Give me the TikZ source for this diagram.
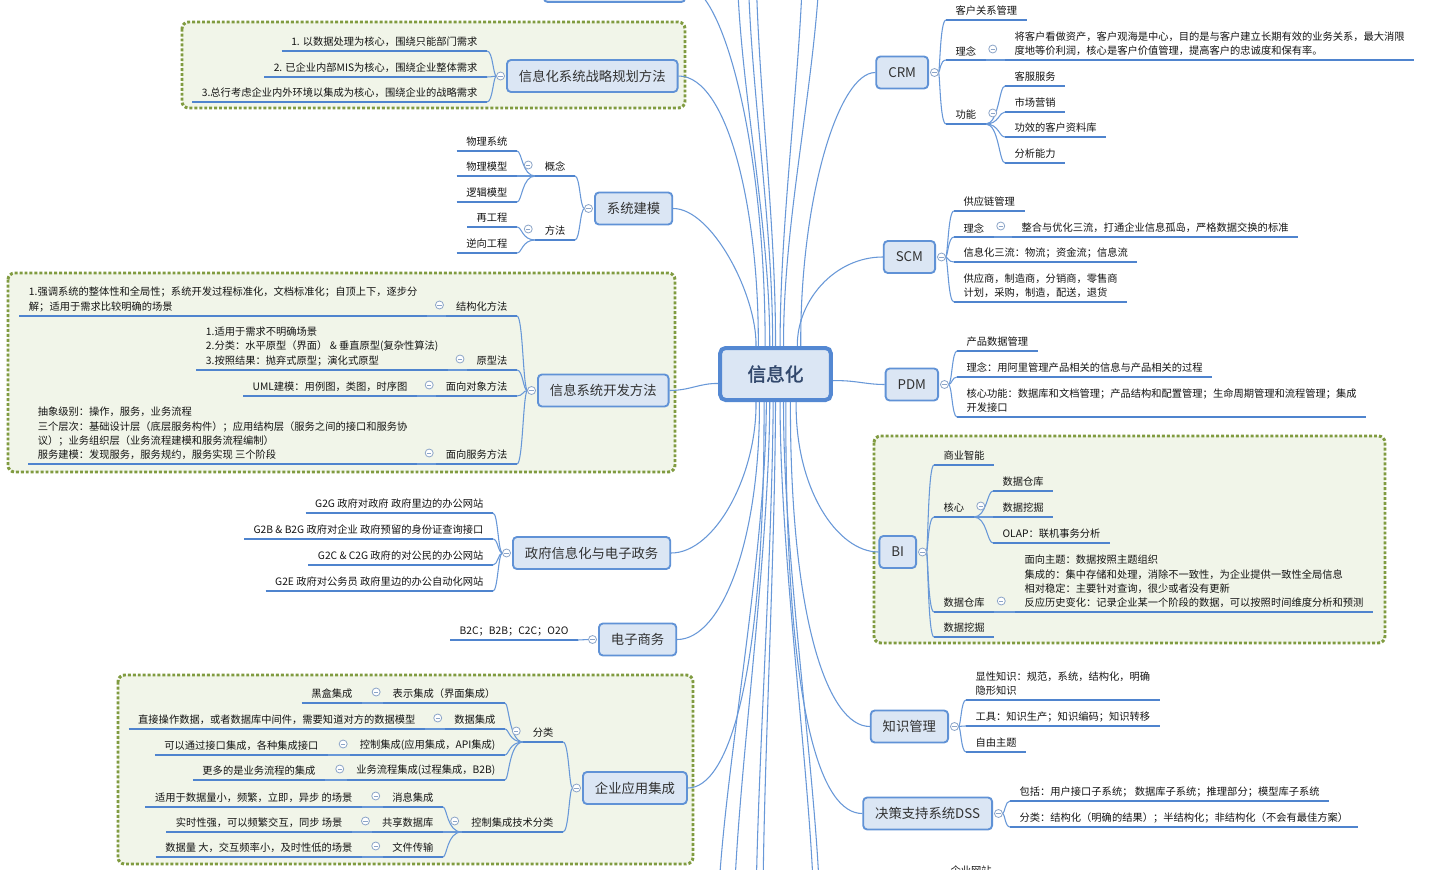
\documentclass[tikz,border=0pt]{standalone}
\usepackage{fontspec}
\setmainfont{Noto Sans CJK SC}
\newfontfamily\rootfont{Noto Sans CJK SC}[FakeBold=1.6]
\usetikzlibrary{calc}
\pgfdeclarelayer{bg}
\pgfsetlayers{bg,main}
\definecolor{ulc}{RGB}{79,132,206}
\definecolor{cnc}{RGB}{104,152,216}
\definecolor{boxfill}{RGB}{219,230,244}
\definecolor{boxdraw}{RGB}{96,146,214}
\definecolor{rootdraw}{RGB}{84,136,210}
\definecolor{roottext}{RGB}{50,72,108}
\definecolor{txt}{RGB}{20,20,20}
\definecolor{boxtext}{RGB}{50,50,50}
\definecolor{grnd}{RGB}{128,155,64}
\definecolor{grnf}{RGB}{241,245,233}
\definecolor{circd}{RGB}{140,165,200}
\tikzset{
  x=0.75pt, y=-0.75pt,
  tp/.style={font=\fontsize{7.7pt}{10.7pt}\selectfont, text=txt, inner xsep=7pt, inner ysep=3pt, align=left},
  tpl/.style={tp, anchor=south east},
  tpr/.style={tp, anchor=south west},
  uline/.style={draw=ulc, line width=2.2pt},
  conn/.style={draw=cnc, line width=0.8pt},
  rconn/.style={draw=cnc, line width=0.8pt},
  mbox/.style={draw=boxdraw, fill=boxfill, line width=1.4pt, rounded corners=3pt, font=\fontsize{10pt}{12pt}\selectfont, text=boxtext, inner xsep=9pt, minimum height=24pt},
  mboxl/.style={mbox, anchor=west},
  mboxr/.style={mbox, anchor=east},
  grp/.style={draw=grnd, fill=grnf, line width=2.2pt, dash pattern=on 2.2pt off 1.5pt, rounded corners=5pt},
  pics/coll/.style={code={\draw[draw=circd, fill=white, line width=0.6pt] (0pt,0pt) circle (3pt); \draw[draw=circd, line width=0.6pt] (-1.6pt,0pt) -- (1.6pt,0pt);}}
}
\newcommand\mbra[3]{\draw[conn] (#1) .. controls (#1 -| #2) and (#3 -| #2) .. (#3);}
\begin{document}
\begin{tikzpicture}
\path[use as bounding box] (0,0) rectangle (1454,870);

% background and groups
\begin{pgfonlayer}{bg}
\fill[white] (0,0) rectangle (1454,870);
\draw[grp] (182,22) rectangle (685,108);
\draw[grp] (8,273) rectangle (675,472);
\draw[grp] (118,675) rectangle (693,864);
\draw[grp] (874,436) rectangle (1385,643);
\end{pgfonlayer}

% root
\node[draw=rootdraw, fill=boxfill, line width=3pt, rounded corners=4pt, minimum width=83pt, minimum height=39pt, font=\rootfont\fontsize{14pt}{16pt}\selectfont, text=roottext] (root) at (775.5,374) {信息化};

% main boxes
\node[mboxl] (b1) at (506,76) {信息化系统战略规划方法};
\node[mboxl] (b2) at (594,208.5) {系统建模};
\node[mboxl] (b3) at (537,390.5) {信息系统开发方法};
\node[mboxl] (b4) at (512,553) {政府信息化与电子政务};
\node[mboxl] (b5) at (598,639.5) {电子商务};
\node[mboxl] (b6) at (582,788) {企业应用集成};
\node[mboxr] (b7) at (929,72.5) {CRM};
\node[mboxr] (b8) at (936,257) {SCM};
\node[mboxr] (b9) at (939,384.5) {PDM};
\node[mboxr] (b10) at (917,552) {BI};
\node[mboxr] (b11) at (949,726.5) {知识管理};
\node[mboxr] (b12) at (993,813.5) {决策支持系统DSS};
\node[mbox, minimum width=106pt, anchor=south] (b0) at (614.5,3) {};

% left children
\node[tpl] (n1a) at (487,51) {1. 以数据处理为核心，围绕只能部门需求};
\node[tpl] (n1b) at (487,77) {2. 已企业内部MIS为核心，围绕企业整体需求};
\node[tpl] (n1c) at (487,102) {3.总行考虑企业内外环境以集成为核心，围绕企业的战略需求};

\node[tpl] (n2a) at (575,176) {概念};
\node[tpl] (n2b) at (575,240) {方法};
\node[tpl] (n2a1) at (517,151) {物理系统};
\node[tpl] (n2a2) at (517,176) {物理模型};
\node[tpl] (n2a3) at (517,202) {逻辑模型};
\node[tpl] (n2b1) at (517,227) {再工程};
\node[tpl] (n2b2) at (517,253) {逆向工程};

\node[tpl] (n3a) at (517,316) {结构化方法};
\node[tpl] (n3b) at (517,370) {原型法};
\node[tpl] (n3c) at (517,396) {面向对象方法};
\node[tpl] (n3d) at (517,464) {面向服务方法};
\node[tpl] (n3a1) at (427,316) {1.强调系统的整体性和全局性；系统开发过程标准化，文档标准化；自顶上下，逐步分\\解；适用于需求比较明确的场景};
\node[tpl] (n3b1) at (448,370) {1.适用于需求不明确场景\\2.分类：水平原型（界面） \& 垂直原型(复杂性算法)\\3.按照结果：抛弃式原型；演化式原型};
\node[tpl] (n3c1) at (417,396) {UML建模：用例图，类图，时序图};
\node[tpl] (n3d1) at (417,464) {抽象级别：操作，服务，业务流程\\三个层次：基础设计层（底层服务构件）；应用结构层（服务之间的接口和服务协\\议）；业务组织层（业务流程建模和服务流程编制）\\服务建模：发现服务，服务规约，服务实现 三个阶段};

\node[tpl] (n4a) at (493,513) {G2G 政府对政府 政府里边的办公网站};
\node[tpl] (n4b) at (493,539) {G2B \& B2G 政府对企业 政府预留的身份证查询接口};
\node[tpl] (n4c) at (493,565) {G2C \& C2G 政府的对公民的办公网站};
\node[tpl] (n4d) at (493,591) {G2E 政府对公务员 政府里边的办公自动化网站};

\node[tpl] (n5a) at (578,640) {B2C；B2B；C2C；O2O};

\node[tpl] (n6a) at (563,742) {分类};
\node[tpl] (n6b) at (563,832) {控制集成技术分类};
\node[tpl] (n6a1) at (505,703) {表示集成（界面集成）};
\node[tpl] (n6a2) at (505,729) {数据集成};
\node[tpl] (n6a3) at (505,755) {控制集成(应用集成，API集成)};
\node[tpl] (n6a4) at (505,780) {业务流程集成(过程集成，B2B)};
\node[tpl] (n6a1x) at (362,703) {黑盒集成};
\node[tpl] (n6a2x) at (425,729) {直接操作数据，或者数据库中间件，需要知道对方的数据模型};
\node[tpl] (n6a3x) at (328,755) {可以通过接口集成，各种集成接口};
\node[tpl] (n6a4x) at (325,780) {更多的是业务流程的集成};
\node[tpl] (n6b1) at (443,807) {消息集成};
\node[tpl] (n6b2) at (443,832) {共享数据库};
\node[tpl] (n6b3) at (443,857) {文件传输};
\node[tpl] (n6b1x) at (362,807) {适用于数据量小，频繁，立即，异步 的场景};
\node[tpl] (n6b2x) at (352,832) {实时性强，可以频繁交互，同步 场景};
\node[tpl] (n6b3x) at (362,857) {数据量 大，交互频率小，及时性低的场景};

% right children
\node[tpr] (n7a) at (946,20) {客户关系管理};
\node[tpr] (n7b) at (946,60) {理念};
\node[tpr] (n7c) at (946,124) {功能};
\node[tpr] (n7b1) at (1005,60) {将客户看做资产，客户观海是中心，目的是与客户建立长期有效的业务关系，最大消限\\度地等价利润，核心是客户价值管理，提高客户的忠诚度和保有率。};
\node[tpr] (n7c1) at (1005,86) {客服服务};
\node[tpr] (n7c2) at (1005,112) {市场营销};
\node[tpr] (n7c3) at (1005,137) {功效的客户资料库};
\node[tpr] (n7c4) at (1005,163) {分析能力};

\node[tpr] (n8a) at (954,211) {供应链管理};
\node[tpr] (n8b) at (954,237) {理念};
\node[tpr] (n8c) at (954,262) {信息化三流：物流；资金流；信息流};
\node[tpr] (n8d) at (954,302) {供应商，制造商，分销商，零售商\\计划，采购，制造，配送，退货};
\node[tpr] (n8b1) at (1012,237) {整合与优化三流，打通企业信息孤岛，严格数据交换的标准};

\node[tpr] (n9a) at (957,351) {产品数据管理};
\node[tpr] (n9b) at (957,377) {理念：用阿里管理产品相关的信息与产品相关的过程};
\node[tpr] (n9c) at (957,417) {核心功能：数据库和文档管理；产品结构和配置管理；生命周期管理和流程管理；集成\\开发接口};

\node[tpr] (n10a) at (934,465) {商业智能};
\node[tpr] (n10b) at (934,517) {核心};
\node[tpr] (n10c) at (934,612) {数据仓库};
\node[tpr] (n10d) at (934,637) {数据挖掘};
\node[tpr] (n10b1) at (993,491) {数据仓库};
\node[tpr] (n10b2) at (993,517) {数据挖掘};
\node[tpr] (n10b3) at (993,543) {OLAP：联机事务分析};
\node[tpr] (n10c1) at (1015,612) {面向主题：数据按照主题组织\\集成的：集中存储和处理，消除不一致性，为企业提供一致性全局信息\\相对稳定：主要针对查询，很少或者没有更新\\反应历史变化：记录企业某一个阶段的数据，可以按照时间维度分析和预测};

\node[tpr] (n11a) at (966,700) {显性知识：规范，系统，结构化，明确\\隐形知识};
\node[tpr] (n11b) at (966,726) {工具：知识生产；知识编码；知识转移};
\node[tpr] (n11c) at (966,752) {自由主题};

\node[tpr] (n12a) at (1010,801) {包括：用户接口子系统； 数据库子系统；推理部分；模型库子系统};
\node[tpr] (n12b) at (1010,827) {分类：结构化（明确的结果）；半结构化；非结构化（不会有最佳方案）};

\node[tpr, anchor=north west] (n13) at (941,862) {企业网站};

% helper coordinates
\foreach \n in {1,...,6} \coordinate (s\n) at ($(b\n.west)+(-7.1pt,0pt)$);
\foreach \n in {7,...,12} \coordinate (s\n) at ($(b\n.east)+(7.1pt,0pt)$);
\foreach \n/\f in {a/0.35,b/0.33,c/0.41,d/0.45,e/0.475,f/0.5,g/0.54,h/0.57,i/0.72,j/0.69}
  \coordinate (rt\n) at ($(root.north west)!\f!(root.north east)$);
\foreach \n/\f in {a/0.33,b/0.36,c/0.40,d/0.42,e/0.45,f/0.48,g/0.5,h/0.54,i/0.57,j/0.68,k/0.63,l/0.59}
  \coordinate (rb\n) at ($(root.south west)!\f!(root.south east)$);
\coordinate (rw) at ($(root.south west)!0.33!(root.north west)$);
\coordinate (re) at ($(root.south east)!0.38!(root.north east)$);
\coordinate (ot1) at (737,-40);
\coordinate (ot2) at (748,-40);
\coordinate (ot3) at (756,-40);
\coordinate (ot4) at (803,-40);
\coordinate (ot5) at (820,-40);
\coordinate (ob1) at (718,910);
\coordinate (ob2) at (734,910);
\coordinate (ob3) at (756,910);
\coordinate (ob4) at (763,910);
\coordinate (ob5) at (814,910);
\coordinate (ob6) at (820,910);
\coordinate (v1) at (493,0);
\coordinate (v2) at (580,0);
\coordinate (v2a) at (522,0);
\coordinate (v3) at (523,0);
\coordinate (v4) at (498,0);
\coordinate (v6) at (569,0);
\coordinate (v6a) at (509,0);
\coordinate (v6b) at (447,0);
\coordinate (v7) at (940,0);
\coordinate (v7c) at (999,0);
\coordinate (v8) at (948,0);
\coordinate (v9) at (952,0);
\coordinate (v10) at (928,0);
\coordinate (v10b) at (987,0);
\coordinate (v11) at (961,0);
\coordinate (v12) at (1005,0);

\begin{pgfonlayer}{bg}
% root connectors
\draw[rconn] (rta) .. controls (759,210) and (728,76) .. (b1.east);
\draw[rconn] (rtb) .. controls (757,295) and (712,208.5) .. (b2.east);
\draw[rconn] (rtc) .. controls (765,140) and (722,-13) .. (b0.east);
\draw[rconn] (rtd) .. controls (770,220) and (738,80) .. (ot1);
\draw[rconn] (rte) .. controls (773,220) and (749,80) .. (ot2);
\draw[rconn] (rtf) .. controls (776,220) and (757,80) .. (ot3);
\draw[rconn] (rtg) .. controls (780,220) and (800,80) .. (ot4);
\draw[rconn] (rth) .. controls (783,220) and (816,80) .. (ot5);
\draw[rconn] (rti) .. controls (800,200) and (838,72.5) .. (b7.west);
\draw[rconn] (rtj) .. controls (797,300) and (835,257) .. (b8.west);
\draw[rconn] (rw) .. controls (700,383) and (690,390.5) .. (b3.east);
\draw[rconn] (re) .. controls (855,380) and (865,384.5) .. (b9.west);
\draw[rconn] (rba) .. controls (757,475) and (715,553) .. (b4.east);
\draw[rconn] (rbb) .. controls (760,540) and (722,639.5) .. (b5.east);
\draw[rconn] (rbc) .. controls (765,680) and (728,788) .. (b6.east);
\draw[rconn] (rbd) .. controls (766,560) and (722,780) .. (ob1);
\draw[rconn] (rbe) .. controls (769,560) and (737,780) .. (ob2);
\draw[rconn] (rbf) .. controls (772,560) and (757,780) .. (ob3);
\draw[rconn] (rbg) .. controls (775,560) and (763,780) .. (ob4);
\draw[rconn] (rbh) .. controls (780,560) and (811,780) .. (ob5);
\draw[rconn] (rbi) .. controls (783,560) and (817,780) .. (ob6);
\draw[rconn] (rbj) .. controls (795,490) and (838,552) .. (b10.west);
\draw[rconn] (rbk) .. controls (790,620) and (828,726.5) .. (b11.west);
\draw[rconn] (rbl) .. controls (785,720) and (822,813.5) .. (b12.west);

% brackets
\foreach \c in {n1a,n1b,n1c} {\mbra{s1}{v1}{\c.south east}}
\foreach \c in {n2a,n2b} {\mbra{s2}{v2}{\c.south east}}
\foreach \c in {n2a1,n2a2,n2a3} {\mbra{n2a.south west}{v2a}{\c.south east}}
\foreach \c in {n2b1,n2b2} {\mbra{n2b.south west}{v2a}{\c.south east}}
\foreach \c in {n3a,n3b,n3c,n3d} {\mbra{s3}{v3}{\c.south east}}
\foreach \p in {n3a,n3b,n3c,n3d} {\draw[conn] (\p.south west) -- (\p1.south east);}
\foreach \c in {n4a,n4b,n4c,n4d} {\mbra{s4}{v4}{\c.south east}}
\draw[conn] (s5) -- (n5a.south east);
\foreach \c in {n6a,n6b} {\mbra{s6}{v6}{\c.south east}}
\foreach \c in {n6a1,n6a2,n6a3,n6a4} {\mbra{n6a.south west}{v6a}{\c.south east}}
\foreach \c in {n6b1,n6b2,n6b3} {\mbra{n6b.south west}{v6b}{\c.south east}}
\foreach \p in {n6a1,n6a2,n6a3,n6a4,n6b1,n6b2,n6b3} {\draw[conn] (\p.south west) -- (\p x.south east);}
\foreach \c in {n7a,n7b,n7c} {\mbra{s7}{v7}{\c.south west}}
\draw[conn] (n7b.south east) -- (n7b1.south west);
\foreach \c in {n7c1,n7c2,n7c3,n7c4} {\mbra{n7c.south east}{v7c}{\c.south west}}
\foreach \c in {n8a,n8b,n8c,n8d} {\mbra{s8}{v8}{\c.south west}}
\draw[conn] (n8b.south east) -- (n8b1.south west);
\foreach \c in {n9a,n9b,n9c} {\mbra{s9}{v9}{\c.south west}}
\foreach \c in {n10a,n10b,n10c,n10d} {\mbra{s10}{v10}{\c.south west}}
\foreach \c in {n10b1,n10b2,n10b3} {\mbra{n10b.south east}{v10b}{\c.south west}}
\draw[conn] (n10c.south east) -- (n10c1.south west);
\foreach \c in {n11a,n11b,n11c} {\mbra{s11}{v11}{\c.south west}}
\foreach \c in {n12a,n12b} {\mbra{s12}{v12}{\c.south west}}
\end{pgfonlayer}

% underlines
\foreach \n in {n1a,n1b,n1c,n2a,n2b,n2a1,n2a2,n2a3,n2b1,n2b2,n3a,n3b,n3c,n3d,n3a1,n3b1,n3c1,n3d1,n4a,n4b,n4c,n4d,n5a,n6a,n6b,n6a1,n6a2,n6a3,n6a4,n6a1x,n6a2x,n6a3x,n6a4x,n6b1,n6b2,n6b3,n6b1x,n6b2x,n6b3x,n7a,n7b,n7c,n7b1,n7c1,n7c2,n7c3,n7c4,n8a,n8b,n8c,n8d,n8b1,n9a,n9b,n9c,n10a,n10b,n10c,n10d,n10b1,n10b2,n10b3,n10c1,n11a,n11b,n11c,n12a,n12b,n13}
  \draw[uline] (\n.south west) -- (\n.south east);

% collapse circles
\foreach \n in {b1,b2,b3,b4,b5,b6} \pic at ($(\n.west)+(-4.1pt,0pt)$) {coll};
\foreach \n in {b7,b8,b9,b10,b11,b12} \pic at ($(\n.east)+(4.1pt,0pt)$) {coll};
\foreach \n in {n2a,n2b,n3a,n3b,n3c,n3d,n6a,n6b,n6a1,n6a2,n6a3,n6a4,n6b1,n6b2,n6b3}
  \pic at ($(\n.south west)+(-5.25pt,8.25pt)$) {coll};
\foreach \n in {n7b,n7c,n8b,n10b,n10c}
  \pic at ($(\n.south east)+(5.25pt,8.25pt)$) {coll};
\end{tikzpicture}
\end{document}
